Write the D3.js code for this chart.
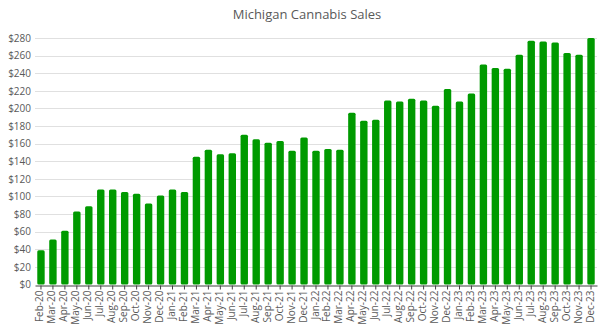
<!DOCTYPE html>
<html><head><meta charset="utf-8">
<script src="https://cdn.jsdelivr.net/npm/d3@7"></script>
<style>body{margin:0;background:#fff}svg{display:block}</style>
</head><body>
<svg id="c" width="601" height="336"></svg>
<script>
const months = ["Feb-20","Mar-20","Apr-20","May-20","Jun-20","Jul-20","Aug-20","Sep-20","Oct-20","Nov-20","Dec-20",
"Jan-21","Feb-21","Mar-21","Apr-21","May-21","Jun-21","Jul-21","Aug-21","Sep-21","Oct-21","Nov-21","Dec-21",
"Jan-22","Feb-22","Mar-22","Apr-22","May-22","Jun-22","Jul-22","Aug-22","Sep-22","Oct-22","Nov-22","Dec-22",
"Jan-23","Feb-23","Mar-23","Apr-23","May-23","Jun-23","Jul-23","Aug-23","Sep-23","Oct-23","Nov-23","Dec-23"];
const sales = [39,51,61,83,89,108,108,105,103,92,101,
108,105,145,153,148,149,170,165,161,163,152,167,
152,154,153,195,186,187,209,208,211,209,203,222,
208,217,250,246,245,261,277,276,275,263,261,280];
const yTicks = [0,20,40,60,80,100,120,140,160,180,200,220,240,260,280];
const title = "Michigan Cannabis Sales";

const svg = d3.select("#c");
const m = {l:35, r:4, t:38, b:51.5};
const W = 601, H = 336;
const x = d3.scaleBand().domain(months).range([m.l, W - m.r]).paddingInner(0.38).paddingOuter(0.19);
const y = d3.scaleLinear().domain([0, 280]).range([H - m.b, m.t]);
const font = "'Open Sans', 'Liberation Sans', sans-serif";

svg.append("text").attr("x", 307).attr("y", 19).attr("text-anchor", "middle")
  .attr("font-family", font).attr("font-size", 13).attr("fill", "#595959").text(title);

// gridlines
svg.append("g").selectAll("line").data(yTicks.filter(d => d > 0)).join("line")
  .attr("x1", m.l).attr("x2", W - m.r)
  .attr("y1", d => Math.round(y(d)) + 0.5).attr("y2", d => Math.round(y(d)) + 0.5)
  .attr("stroke", "#e0e0e0").attr("stroke-width", 1);

// y axis labels
const ya = svg.append("g").attr("transform", `translate(${m.l},0)`)
  .call(d3.axisLeft(y).tickValues(yTicks).tickSize(0).tickPadding(4).tickFormat(d => "$" + d));
ya.select(".domain").remove();
ya.selectAll("text").attr("font-family", font).attr("font-size", 10).attr("fill", "#595959");

// bars
svg.append("g").selectAll("rect").data(months).join("rect")
  .attr("x", d => x(d)).attr("width", x.bandwidth())
  .attr("y", (d, i) => y(sales[i])).attr("height", (d, i) => y(0) - y(sales[i]))
  .attr("rx", 1.5).attr("fill", "#009a00");

// x axis
const xa = svg.append("g").attr("transform", `translate(0,${Math.round(y(0)) + 0.5})`)
  .call(d3.axisBottom(x).tickSize(4).tickPadding(3).tickSizeOuter(0));
xa.select(".domain").attr("stroke", "#404040");
xa.selectAll(".tick line").attr("stroke", "#404040");
xa.selectAll("text").attr("font-family", font).attr("font-size", 10).attr("fill", "#595959")
  .attr("transform", "rotate(-90)").attr("text-anchor", "end").attr("dx", "-0.5em").attr("dy", "-0.45em");
</script>
</body></html>
